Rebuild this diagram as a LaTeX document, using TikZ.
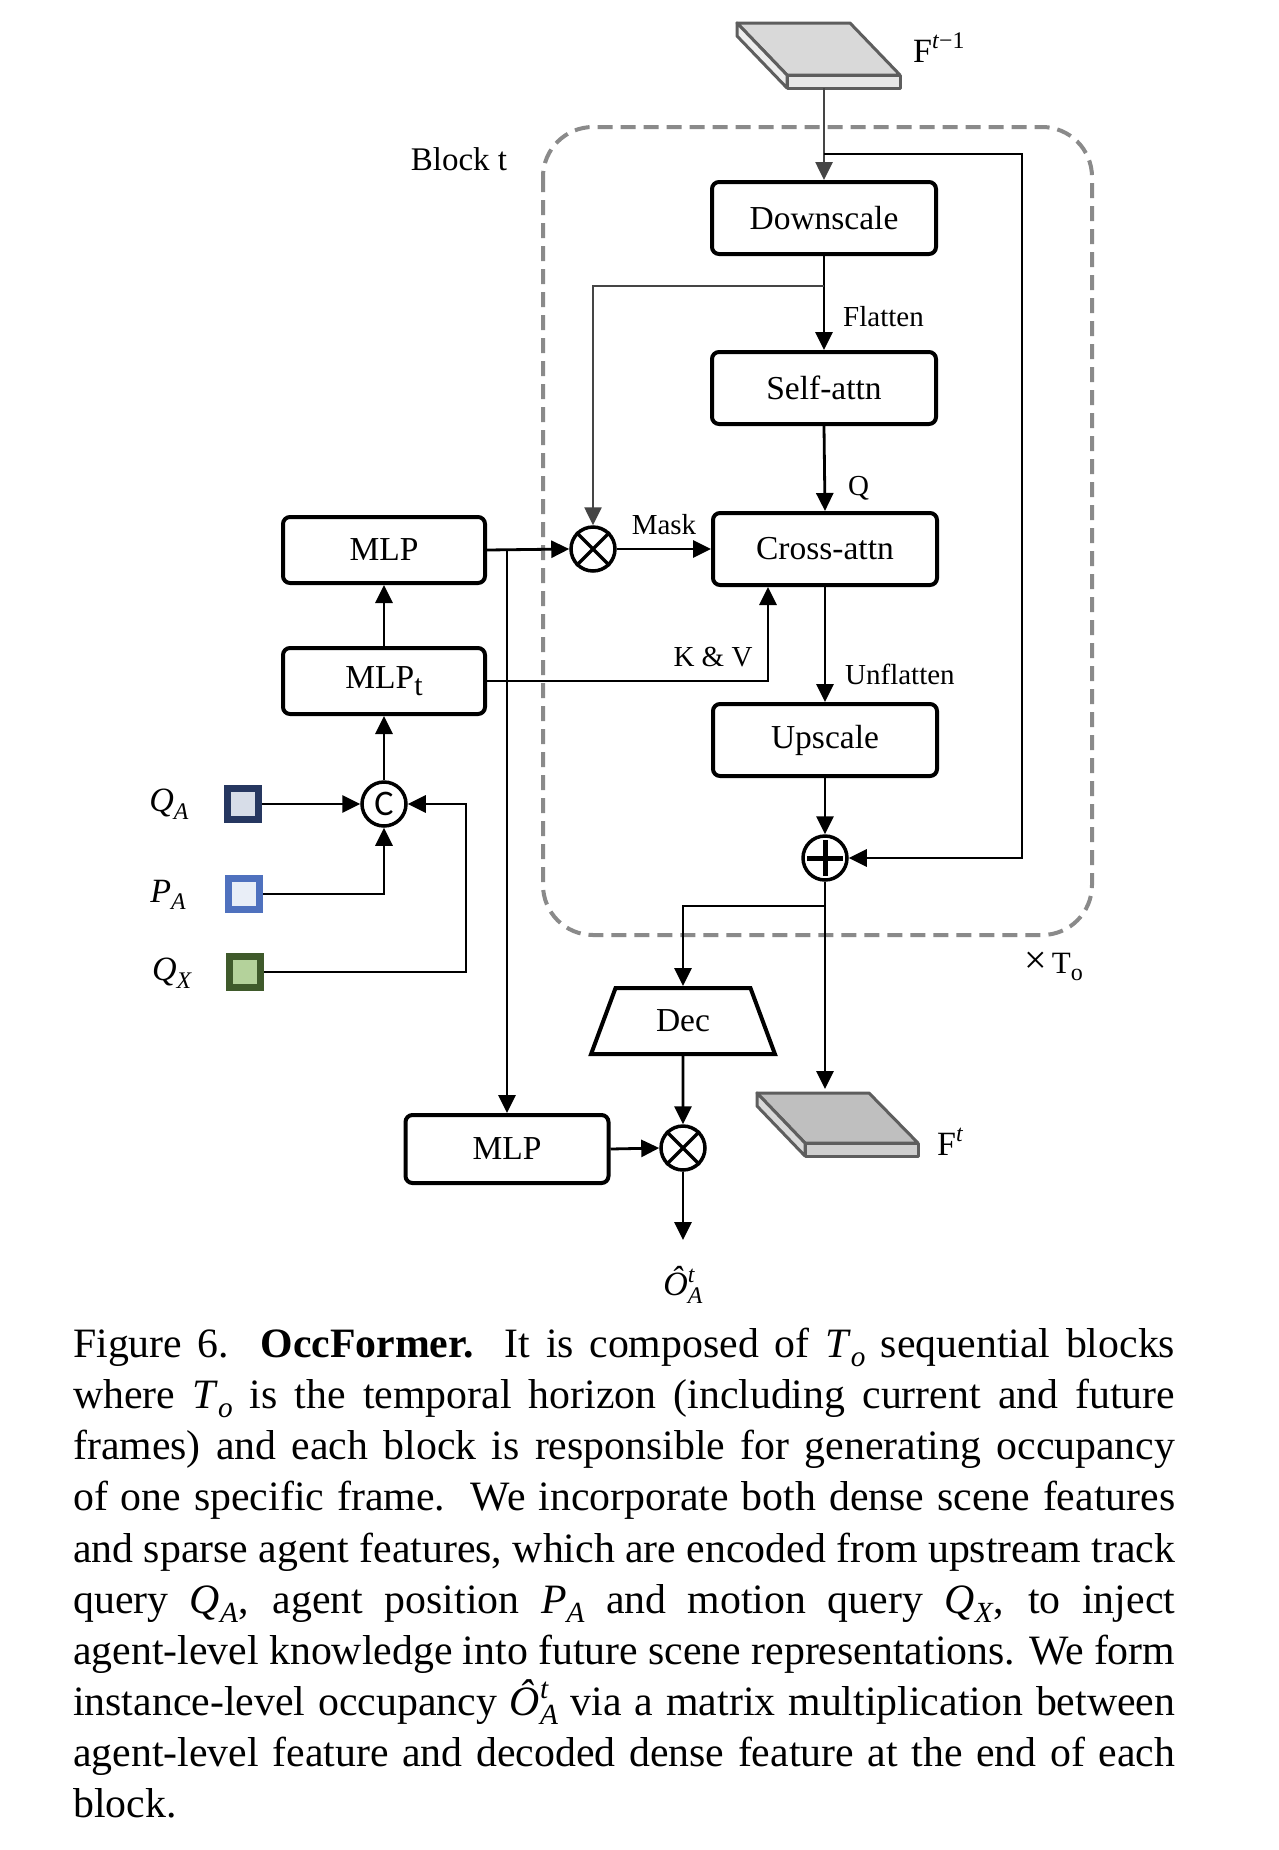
\documentclass[tikz,border=0pt]{standalone}
\usepackage{fontspec}
\setmainfont{Liberation Serif}
\newfontfamily\carlito{Carlito}
\usetikzlibrary{arrows.meta,shapes.geometric}
\definecolor{qaB}{HTML}{263760}
\definecolor{qaF}{HTML}{D7DDE8}
\definecolor{paB}{HTML}{4F71BE}
\definecolor{paF}{HTML}{E9EEF7}
\definecolor{qxB}{HTML}{3F5A2B}
\definecolor{qxF}{HTML}{B4D29B}
\definecolor{dashgray}{HTML}{8A8A8A}
\definecolor{arrgray}{HTML}{454545}
\definecolor{slabedge}{HTML}{5E5E5E}
\newcommand{\ssub}[1]{\raisebox{-0.22em}{\scalebox{0.7}{#1}}}
\newcommand{\ssup}[1]{\raisebox{0.4em}{\scalebox{0.7}{#1}}}
\newcommand{\supsub}[2]{\rlap{\ssup{#1}}\ssub{#2}}
\newcommand{\vQA}{\textit{Q}\ssub{\textit{A}}}
\newcommand{\vPA}{\textit{P}\ssub{\textit{A}}}
\newcommand{\vQX}{\textit{Q}\ssub{\textit{X}}}
\newcommand{\vTo}{\textit{T}\ssub{\textit{o}}}
\newcommand{\vOA}{\textit{Ô}\supsub{\textit{t}}{\textit{A}}}
\begin{document}
\begin{tikzpicture}[x=1pt,y=-1pt,
  box/.style={draw, line width=4pt, rounded corners=7pt, minimum width=224pt, minimum height=72pt, inner sep=0pt, font=\fontsize{33.5}{38}\selectfont},
  mlpbox/.style={box, minimum width=202pt, minimum height=66pt},
  conn/.style={line width=2.8pt, -{Triangle[length=18pt,width=17pt]}},
  grayconn/.style={line width=2.6pt, draw=arrgray, -{Triangle[length=18pt,width=17pt]}},
  lbl/.style={font=\fontsize{29}{34}\selectfont, inner sep=0pt},
  mlbl/.style={font=\fontsize{34}{38}\selectfont, inner sep=0pt},
  op/.style={circle, draw, line width=3.5pt, minimum size=44pt, inner sep=0pt},
  sq/.style={line width=7pt, minimum size=31pt, inner sep=0pt},
  slab/.style={draw=slabedge, line width=3pt, line join=round},
]
\fill[white] (0,0) rectangle (1278,1850);
\useasboundingbox (0,0) rectangle (1278,1850);

% dashed block
\draw[draw=dashgray, line width=4pt, dash pattern=on 15pt off 8pt, rounded corners=50pt] (543,127) rectangle (1092,935);
\node[font=\fontsize{33}{38}\selectfont, inner sep=0pt] (blk) at (459,159) {Block t};

% top slab
\filldraw[slab, fill=black!15] (737,23) -- (850,23) -- (900,75) -- (787,75) -- cycle;
\filldraw[slab, fill=black!9] (787,75) -- (900,75) -- (900,88) -- (787,88) -- cycle;
\filldraw[slab, fill=black!7] (737,23) -- (787,75) -- (787,88) -- (737,36) -- cycle;
\coordinate (s1) at (824,88);
\node[font=\fontsize{34}{38}\selectfont, inner sep=0pt, anchor=base west] (ft1) at (913,62) {F\ssup{\textit{t}−1}};

% bottom slab
\filldraw[slab, fill=black!25] (757,1093) -- (869,1093) -- (918,1143) -- (805,1143) -- cycle;
\filldraw[slab, fill=black!19] (805,1143) -- (918,1143) -- (918,1156) -- (805,1156) -- cycle;
\filldraw[slab, fill=black!15] (757,1093) -- (805,1143) -- (805,1156) -- (757,1106) -- cycle;
\coordinate (s2) at (825,1089);
\node[font=\fontsize{34}{38}\selectfont, inner sep=0pt, anchor=base west] (ft) at (937,1155) {F\ssup{\textit{t}}};

% boxes
\node[box] (down) at (824,218) {Downscale};
\node[box] (self) at (824,388) {Self-attn};
\node[box] (cross) at (825,549) {Cross-attn};
\node[box] (up) at (825,740) {Upscale};
\node[mlpbox] (mlp1) at (384,550) {MLP};
\node[mlpbox] (mlpt) at (384,681) {MLP\raisebox{-7pt}{\fontsize{30}{30}\selectfont t}};
\node[mlpbox, minimum width=203pt, minimum height=68pt] (mlp2) at (507,1149) {MLP};
\node[trapezium, trapezium angle=66.3, trapezium stretches=true, minimum width=184pt, minimum height=66pt, draw, line width=4pt, inner sep=0pt, font=\fontsize{33.5}{38}\selectfont] (dec) at (683,1021) {Dec};

% operators
\node[op] (x1) at (593,549) {};
\draw[line width=3.5pt] (x1.north west) -- (x1.south east) (x1.north east) -- (x1.south west);
\node[op] (x2) at (683,1148) {};
\draw[line width=3.5pt] (x2.north west) -- (x2.south east) (x2.north east) -- (x2.south west);
\node[op] (plus) at (825,858) {};
\draw[line width=5pt] ([yshift=-18pt]plus.center) -- ([yshift=18pt]plus.center) ([xshift=-18pt]plus.center) -- ([xshift=18pt]plus.center);
\node[op, font=\carlito\fontsize{36}{36}\selectfont] (cc) at (384,804) {C};

% input squares
\node[sq, draw=qaB, fill=qaF] (qa) at (243,804) {};
\node[sq, draw=paB, fill=paF] (pa) at (244,894) {};
\node[sq, draw=qxB, fill=qxF] (qx) at (245,972) {};
\node[mlbl] (lqa) at (169,804) {\vQA};
\node[mlbl] (lpa) at (168,895) {\vPA};
\node[mlbl] (lqx) at (172,973) {\vQX};

% labels
\node[lbl, anchor=west] (lflat) at (843,317) {Flatten};
\node[lbl, anchor=west] (lq) at (848,488) {Q};
\node[lbl] (lmask) at (664,525) {Mask};
\node[lbl] (lkv) at (713,657) {K \& V};
\node[lbl, anchor=west] (lunf) at (845,674) {Unflatten};
\node[lbl, anchor=base west, font=\fontsize{31}{34}\selectfont] (lto) at (1024,973) {{\fontsize{40}{40}\selectfont ×}\,T\raisebox{-7pt}{\fontsize{24}{24}\selectfont o}};
\node[mlbl] (lout) at (683,1285) {\vOA};

% coordinates for junctions
\coordinate (j1) at (824,154);
\coordinate (skipR) at (1022,154);
\coordinate (j2) at (824,286);
\coordinate (j3) at (507,549);
\coordinate (j4) at (825,906);
\coordinate (outE) at (683,1240);
\coordinate (qxR) at (466,804);

% connectors
\draw[grayconn] (s1) -- (down.north);
\draw[conn] (j1) -- (skipR) |- (plus.east);
\draw[conn] (down.south) -- (self.north);
\draw[grayconn] (j2) -| (x1.north);
\draw[conn] (self.south) -- (cross.north);
\draw[conn] (mlp1.east) -- (x1.west);
\draw[conn] (x1.east) -- (cross.west);
\draw[conn] (j3) -- (mlp2.north);
\draw[conn] (mlpt.east) -| ([xshift=-57pt]cross.south);
\draw[conn] (cross.south) -- (up.north);
\draw[conn] (up.south) -- (plus.north);
\draw[conn] (plus.south) -- (s2);
\draw[conn] (j4) -| (dec.north);
\draw[conn] (dec.south) -- (x2.north);
\draw[conn] (mlp2.east) -- (x2.west);
\draw[conn] (x2.south) -- (outE);
\draw[conn] (qa.east) -- (cc.west);
\draw[conn] (pa.east) -| (cc.south);
\draw[conn] (qx.east) -| (qxR) -- (cc.east);
\draw[conn] (cc.north) -- (mlpt.south);
\draw[conn] (mlpt.north) -- (mlp1.south);

% caption
\node[anchor=north west, text width=1102pt, align=justify, inner sep=0pt, font=\fontsize{41.8}{51.1}\selectfont] (cap) at (73,1328) {Figure 6.\ \ \textbf{OccFormer.}\ \ It is composed of \vTo\ sequential blocks\linebreak
where \vTo\ is the temporal horizon (including current and future\linebreak
frames) and each block is responsible for generating occupancy\linebreak
of one specific frame.\ \ We incorporate both dense scene features\linebreak
and sparse agent features, which are encoded from upstream track\linebreak
query \vQA, agent position \vPA\ and motion query \vQX, to inject\linebreak
agent-level knowledge into future scene representations. We form\linebreak
instance-level occupancy \vOA\ via a matrix multiplication between\linebreak
agent-level feature and decoded dense feature at the end of each\linebreak
block.};
\end{tikzpicture}
\end{document}
